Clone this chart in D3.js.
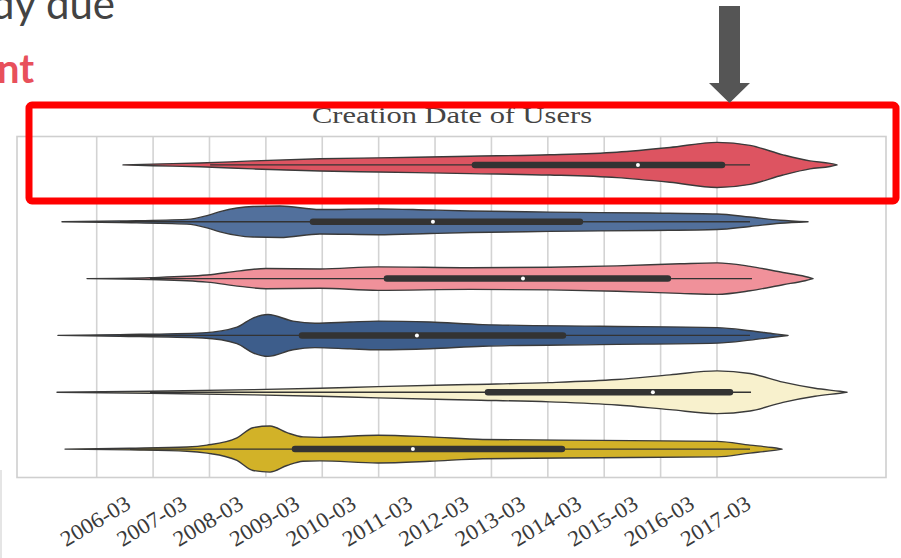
<!DOCTYPE html>
<html>
<head>
<meta charset="utf-8">
<script src="https://cdn.jsdelivr.net/npm/d3@7/dist/d3.min.js"></script>
<style>
  html, body { margin: 0; padding: 0; background: #ffffff; overflow: hidden; }
  svg { display: block; }
</style>
</head>
<body>
<svg id="chart" width="901" height="558"></svg>
<script>
// Account creation dates per user group (decimal years), drawn as horizontal violins.
const tickLabels = ["2006-03", "2007-03", "2008-03", "2009-03", "2010-03", "2011-03",
                    "2012-03", "2013-03", "2014-03", "2015-03", "2016-03", "2017-03"];

const groups = ["g1", "g2", "g3", "g4", "g5", "g6"];
const groupColors = ["#dd5461", "#52709c", "#f0919a", "#3d5d8b", "#f8f1cd", "#d2b228"];

// Kernel density profiles: [year, relative density]
const density1 = [[2006.633, 0], [2007.165, 0.035], [2007.998, 0.08], [2008.938, 0.17],
  [2010.126, 0.26], [2011.154, 0.30], [2012.786, 0.37], [2014.204, 0.43], [2015.392, 0.54],
  [2016.331, 0.74], [2017.167, 0.96], [2017.752, 0.83], [2018.337, 0.43], [2018.816, 0.17],
  [2019.171, 0.065], [2019.295, 0]];
const density2 = [[2005.551, 0], [2006.580, 0.035], [2007.768, 0.10], [2008.122, 0.26],
  [2008.353, 0.43], [2008.938, 0.65], [2009.417, 0.67], [2010.126, 0.52], [2011.154, 0.55],
  [2012.076, 0.50], [2012.786, 0.46], [2014.204, 0.41], [2015.977, 0.37], [2017.167, 0.33],
  [2017.752, 0.20], [2018.284, 0.065], [2018.781, 0]];
const density3 = [[2005.995, 0], [2007.112, 0.04], [2008.122, 0.15], [2008.707, 0.33],
  [2009.168, 0.43], [2010.126, 0.41], [2011.154, 0.50], [2012.786, 0.46], [2014.204, 0.48],
  [2015.392, 0.54], [2016.509, 0.63], [2017.167, 0.67], [2017.752, 0.52], [2018.337, 0.26],
  [2018.728, 0.09], [2018.870, 0]];
const density4 = [[2005.480, 0], [2006.580, 0.035], [2008.051, 0.11], [2008.654, 0.35],
  [2008.938, 0.74], [2009.204, 0.89], [2009.647, 0.61], [2010.037, 0.52], [2010.658, 0.57],
  [2011.154, 0.61], [2012.076, 0.57], [2013.016, 0.46], [2015.090, 0.39], [2017.167, 0.33],
  [2017.752, 0.20], [2018.195, 0.065], [2018.426, 0]];
const density5 = [[2005.463, 0], [2007.112, 0.04], [2008.938, 0.11], [2010.126, 0.17],
  [2011.154, 0.24], [2012.786, 0.33], [2014.204, 0.41], [2015.392, 0.54], [2016.331, 0.74],
  [2017.167, 0.91], [2017.752, 0.80], [2018.337, 0.43], [2018.905, 0.17], [2019.348, 0.04],
  [2019.472, 0]];
const density6 = [[2005.605, 0], [2006.757, 0.035], [2007.768, 0.09], [2008.122, 0.17],
  [2008.654, 0.48], [2008.938, 0.91], [2009.239, 0.98], [2009.541, 0.70], [2009.825, 0.52],
  [2010.126, 0.50], [2011.154, 0.59], [2012.076, 0.52], [2013.016, 0.41], [2015.090, 0.37],
  [2017.167, 0.33], [2017.752, 0.17], [2018.142, 0.065], [2018.320, 0]];
const densities = [density1, density2, density3, density4, density5, density6];

// Box summaries: [lower whisker, q1, median, q3, upper whisker]
const boxStats = [
  [2008.178, 2012.874, 2015.765, 2017.255, 2017.752],
  [2006.580, 2010.002, 2012.129, 2014.736, 2017.752],
  [2007.112, 2011.314, 2013.726, 2016.296, 2017.787],
  [2006.580, 2009.807, 2011.845, 2014.435, 2017.752],
  [2007.112, 2013.105, 2016.030, 2017.397, 2017.770],
  [2006.757, 2009.683, 2011.774, 2014.417, 2017.752]
];

const svg = d3.select("#chart");

// ---------- slide context (text continues beyond the visible slide area) ----------
svg.append("text")
  .attr("x", -9).attr("y", 19)
  .attr("font-family", "Lato, 'Open Sans', sans-serif")
  .attr("font-size", 42)
  .attr("fill", "#434343")
  .text("dy due");
svg.append("text")
  .attr("x", -3).attr("y", 83)
  .attr("font-family", "Lato, 'Open Sans', sans-serif")
  .attr("font-weight", "bold")
  .attr("font-size", 40)
  .attr("fill", "#e8505b")
  .text("nt");
svg.append("line")
  .attr("x1", 1).attr("x2", 1).attr("y1", 470).attr("y2", 558)
  .attr("stroke", "#dcdcdc").attr("stroke-width", 1.5);

// ---------- plot area ----------
const plot = { left: 17, right: 886, top: 136.5, bottom: 477.5 };

const tickValue = s => { const [y, m] = s.split("-").map(Number); return y + (m - 1) / 12; };
const x = d3.scaleLinear()
  .domain([tickValue(tickLabels[0]), tickValue(tickLabels[tickLabels.length - 1])])
  .range([96.7, 717]);
const y = d3.scaleBand().domain(groups).range([plot.top, plot.bottom]).padding(0);
const w = d3.scaleLinear().domain([0, 1]).range([0, 23.5]);

svg.append("rect")
  .attr("x", plot.left).attr("y", plot.top)
  .attr("width", plot.right - plot.left).attr("height", plot.bottom - plot.top)
  .attr("fill", "#ffffff");

// vertical grid
svg.append("g").selectAll("line").data(tickLabels).join("line")
  .attr("x1", d => x(tickValue(d))).attr("x2", d => x(tickValue(d)))
  .attr("y1", plot.top).attr("y2", plot.bottom)
  .attr("stroke", "#d3d3d3").attr("stroke-width", 1.6);

svg.append("rect")
  .attr("x", plot.left).attr("y", plot.top)
  .attr("width", plot.right - plot.left).attr("height", plot.bottom - plot.top)
  .attr("fill", "none").attr("stroke", "#cfcfcf").attr("stroke-width", 1.6);

// violins
const rows = svg.append("g").selectAll("g").data(groups).join("g")
  .attr("transform", d => `translate(0,${y(d) + y.bandwidth() / 2})`);

const area = d3.area()
  .x(d => x(d[0]))
  .y0(d => -w(d[1]))
  .y1(d => w(d[1]))
  .curve(d3.curveMonotoneX);

rows.append("path")
  .attr("d", (d, i) => area(densities[i]))
  .attr("fill", (d, i) => groupColors[i])
  .attr("stroke", "#3a3a3a").attr("stroke-width", 1.4)
  .attr("stroke-linejoin", "round");

// inner box: whisker line, IQR bar, median dot
rows.append("line")
  .attr("x1", (d, i) => x(boxStats[i][0])).attr("x2", (d, i) => x(boxStats[i][4]))
  .attr("y1", 0).attr("y2", 0)
  .attr("stroke", "#333333").attr("stroke-width", 1.4);
rows.append("line")
  .attr("x1", (d, i) => x(boxStats[i][1])).attr("x2", (d, i) => x(boxStats[i][3]))
  .attr("y1", 0).attr("y2", 0)
  .attr("stroke", "#333333").attr("stroke-width", 6.5)
  .attr("stroke-linecap", "round");
rows.append("circle")
  .attr("cx", (d, i) => x(boxStats[i][2])).attr("cy", 0).attr("r", 2)
  .attr("fill", "#ffffff");

// x tick labels
svg.append("g").selectAll("text").data(tickLabels).join("text")
  .attr("transform", d => `translate(${x(tickValue(d)) - 1.5},521) rotate(-31)`)
  .attr("text-anchor", "middle")
  .attr("dominant-baseline", "central")
  .attr("font-family", "'Liberation Serif', 'DejaVu Serif', serif")
  .attr("font-size", 22)
  .attr("fill", "#3a3a3a")
  .attr("textLength", 77).attr("lengthAdjust", "spacingAndGlyphs")
  .text(d => d);

// title
svg.append("text")
  .attr("x", 452).attr("y", 123)
  .attr("text-anchor", "middle")
  .attr("font-family", "'Liberation Serif', 'DejaVu Serif', serif")
  .attr("font-size", 24)
  .attr("fill", "#444444")
  .attr("textLength", 280).attr("lengthAdjust", "spacingAndGlyphs")
  .text("Creation Date of Users");

// highlight frame around the first group
svg.append("rect")
  .attr("x", 29).attr("y", 105).attr("width", 867).attr("height", 96)
  .attr("rx", 3)
  .attr("fill", "none").attr("stroke", "#ff0000").attr("stroke-width", 7);

// pointer arrow
svg.append("path")
  .attr("d", "M719,6 L740,6 L740,83 L750,83 L729.5,103 L709,83 L719,83 Z")
  .attr("fill", "#555555");
</script>
</body>
</html>
